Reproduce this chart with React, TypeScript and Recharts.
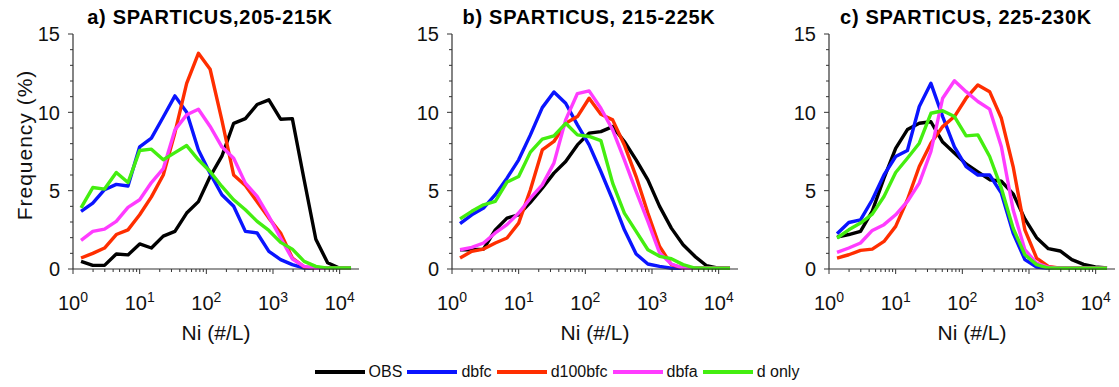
import React from 'react'
import { LineChart, Line, XAxis, YAxis, Label } from 'recharts'

// bin centres of Ni (#/L), log-spaced by a factor of 1.5
const NI = [1.32, 1.98, 2.97, 4.46, 6.68, 10.0, 15.0, 22.6, 33.8, 50.7, 76.1, 114, 171, 257, 385, 578, 867, 1300, 1950, 2930, 4390, 6590, 9880, 14800]

// a) 205-215K
const obsA = [0.49, 0.23, 0.23, 0.96, 0.9, 1.6, 1.34, 2.1, 2.4, 3.57, 4.3, 5.9, 7.2, 9.3, 9.6, 10.5, 10.8, 9.56, 9.6, 5.7, 1.9, 0.4, 0.06, 0.05]
const dbfcA = [3.68, 4.2, 5.06, 5.4, 5.3, 7.8, 8.35, 9.7, 11.05, 10.0, 7.6, 6.1, 4.74, 4.0, 2.4, 2.3, 1.13, 0.6, 0.28, 0.06, 0.05, 0.05, 0.05, 0.05]
const d100bfcA = [0.7, 1.0, 1.34, 2.2, 2.5, 3.46, 4.6, 6.0, 8.7, 11.85, 13.77, 12.75, 9.5, 6.0, 5.33, 4.3, 3.25, 2.3, 0.7, 0.13, 0.05, 0.05, 0.05, 0.05]
const dbfaA = [1.83, 2.4, 2.55, 3.04, 3.93, 4.42, 5.52, 6.4, 8.88, 9.84, 10.2, 9.1, 7.8, 7.07, 5.48, 4.63, 3.36, 1.98, 0.64, 0.17, 0.05, 0.05, 0.05, 0.05]
const donlyA = [3.9, 5.2, 5.1, 6.16, 5.52, 7.56, 7.65, 6.97, 7.43, 7.88, 6.97, 6.22, 5.27, 4.42, 3.78, 3.04, 2.46, 1.7, 1.27, 0.49, 0.17, 0.06, 0.06, 0.06]

// b) 215-225K
const obsB = [1.23, 1.23, 1.27, 2.5, 3.25, 3.46, 4.25, 5.16, 6.12, 6.86, 7.92, 8.67, 8.77, 9.09, 8.14, 6.97, 5.69, 4.0, 2.61, 1.55, 0.81, 0.21, 0.06, 0.05]
const dbfcB = [2.89, 3.46, 3.89, 4.74, 5.8, 6.97, 8.56, 10.3, 11.3, 10.58, 9.2, 7.92, 6.22, 4.42, 2.5, 0.96, 0.32, 0.17, 0.05, 0.05, 0.05, 0.05, 0.05, 0.05]
const d100bfcB = [0.7, 1.13, 1.27, 1.66, 1.98, 2.93, 5.06, 7.6, 8.14, 9.3, 9.73, 10.9, 9.88, 9.52, 7.92, 5.9, 3.57, 1.44, 0.28, 0.06, 0.05, 0.05, 0.05, 0.05]
const dbfaB = [1.23, 1.38, 1.66, 2.3, 2.83, 3.57, 4.52, 5.37, 6.76, 9.52, 11.2, 11.37, 10.26, 8.88, 6.97, 4.95, 3.04, 1.02, 0.32, 0.06, 0.05, 0.05, 0.05, 0.05]
const donlyB = [3.2, 3.68, 4.1, 4.31, 5.55, 5.9, 7.46, 8.29, 8.5, 9.3, 8.56, 8.46, 8.2, 5.48, 3.57, 2.4, 1.23, 0.81, 0.66, 0.28, 0.06, 0.05, 0.05, 0.05]

// c) 225-230K
const obsC = [2.04, 2.2, 2.4, 3.7, 5.8, 7.7, 8.9, 9.3, 9.4, 8.1, 7.4, 6.7, 6.2, 5.7, 5.6, 4.8, 3.2, 2.0, 1.3, 1.15, 0.6, 0.3, 0.13, 0.06]
const dbfcC = [2.25, 2.97, 3.14, 4.42, 6.0, 7.18, 7.56, 10.37, 11.85, 9.73, 7.8, 6.54, 6.0, 6.0, 4.84, 2.3, 0.6, 0.13, 0.05, 0.05, 0.05, 0.05, 0.05, 0.05]
const d100bfcC = [0.7, 0.91, 1.19, 1.27, 1.76, 2.72, 4.42, 6.54, 8.03, 9.09, 9.73, 10.9, 11.75, 11.32, 9.62, 6.54, 2.5, 0.7, 0.17, 0.05, 0.05, 0.05, 0.05, 0.05]
const dbfaC = [1.06, 1.34, 1.66, 2.46, 2.83, 3.46, 4.31, 5.48, 7.5, 10.9, 12.02, 11.32, 10.69, 10.2, 7.8, 3.78, 1.23, 0.38, 0.11, 0.05, 0.05, 0.05, 0.05, 0.05]
const donlyC = [1.98, 2.5, 2.93, 3.5, 4.63, 6.16, 7.07, 8.03, 9.94, 10.1, 9.73, 8.5, 8.56, 7.18, 5.16, 2.61, 0.91, 0.28, 0.06, 0.05, 0.05, 0.05, 0.05, 0.05]

const X_MAJOR = [1, 10, 100, 1000, 10000]
const X_TICKS = [
  1, 2, 3, 4, 5, 6, 7, 8, 9,
  10, 20, 30, 40, 50, 60, 70, 80, 90,
  100, 200, 300, 400, 500, 600, 700, 800, 900,
  1000, 2000, 3000, 4000, 5000, 6000, 7000, 8000, 9000,
  10000,
]
const Y_TICKS = [0, 1, 2, 3, 4, 5, 6, 7, 8, 9, 10, 11, 12, 13, 14, 15]
const Y_LABELS = [0, 5, 10, 15]

const SERIES = [
  { key: 'obs', name: 'OBS', color: '#000000' },
  { key: 'dbfc', name: 'dbfc', color: '#0a14ff' },
  { key: 'd100bfc', name: 'd100bfc', color: '#ff2e00' },
  { key: 'dbfa', name: 'dbfa', color: '#ff3cff' },
  { key: 'donly', name: 'd only', color: '#44ee10' },
]

const PANELS = [
  { title: 'a) SPARTICUS,205-215K', plotLeft: 73, values: [obsA, dbfcA, d100bfcA, dbfaA, donlyA] },
  { title: 'b) SPARTICUS, 215-225K', plotLeft: 452, values: [obsB, dbfcB, d100bfcB, dbfaB, donlyB] },
  { title: 'c) SPARTICUS, 225-230K', plotLeft: 829, values: [obsC, dbfcC, d100bfcC, dbfaC, donlyC] },
]

const FONT = '"Liberation Sans", Arial, Helvetica, sans-serif'
const AXIS = '#333'
const TXT = '#111'
const PLOT_W = 286

const isMajorX = (v: number) => X_MAJOR.includes(v)

const BottomTick = (props: any) => {
  const { x, y, payload } = props
  const v = payload.value
  const major = isMajorX(v)
  return (
    <g>
      <line x1={x} x2={x} y1={y} y2={y + (major ? 5 : 3)} stroke={AXIS} strokeWidth={1} />
      {major && (
        <text x={x} y={y + 41} textAnchor="middle" fontSize={20} fontFamily={FONT} fill={TXT}>
          10
          <tspan dy={-8} fontSize={14}>{Math.round(Math.log10(v))}</tspan>
        </text>
      )}
    </g>
  )
}

const TopTick = (props: any) => {
  const { x, y, payload } = props
  const major = isMajorX(payload.value)
  return <line x1={x} x2={x} y1={y} y2={y - (major ? 5 : 3)} stroke={AXIS} strokeWidth={1} />
}

const LeftTick = (props: any) => {
  const { x, y, payload } = props
  const major = Y_LABELS.includes(payload.value)
  return (
    <g>
      <line x1={x} x2={x - (major ? 5 : 3)} y1={y} y2={y} stroke={AXIS} strokeWidth={1} />
      {major && (
        <text x={x - 13} y={y} dy="0.36em" textAnchor="end" fontSize={20} fontFamily={FONT} fill={TXT}>
          {payload.value}
        </text>
      )}
    </g>
  )
}

const RightTick = (props: any) => {
  const { x, y, payload } = props
  const major = Y_LABELS.includes(payload.value)
  return <line x1={x} x2={x + (major ? 5 : 3)} y1={y} y2={y} stroke={AXIS} strokeWidth={1} />
}

function Panel({ plotLeft, values }: { plotLeft: number; values: number[][] }) {
  const data = NI.map((x, i) => {
    const row: any = { x }
    SERIES.forEach((s, j) => {
      row[s.key] = values[j][i]
    })
    return row
  })

  return (
    <div style={{ position: 'absolute', left: plotLeft - 60, top: 0 }}>
      <LineChart width={60 + PLOT_W + 8} height={345} data={data} margin={{ top: 34, right: 8, left: 0, bottom: 0 }}>
        <XAxis
          dataKey="x"
          type="number"
          scale="log"
          domain={[1, 19500]}
          allowDataOverflow
          ticks={X_TICKS}
          interval={0}
          height={76}
          tickSize={0}
          tickMargin={0}
          tickLine={false}
          axisLine={{ stroke: AXIS, strokeWidth: 1.2 }}
          tick={(p: any) => <BottomTick {...p} />}
        >
          <Label
            content={(p: any) => {
              const vb = p.viewBox || { x: 0, y: 269, width: PLOT_W }
              return (
                <text x={vb.x + vb.width / 2} y={vb.y + 71} textAnchor="middle" fontSize={21} fontFamily={FONT} fill={TXT}>
                  Ni (#/L)
                </text>
              )
            }}
          />
        </XAxis>
        <XAxis
          xAxisId="top"
          orientation="top"
          dataKey="x"
          type="number"
          scale="log"
          domain={[1, 19500]}
          allowDataOverflow
          ticks={X_TICKS}
          interval={0}
          height={0}
          tickSize={0}
          tickMargin={0}
          tickLine={false}
          axisLine={{ stroke: AXIS, strokeWidth: 1.2 }}
          tick={(p: any) => <TopTick {...p} />}
        />
        <YAxis
          type="number"
          domain={[0, 15]}
          ticks={Y_TICKS}
          interval={0}
          width={60}
          tickSize={0}
          tickMargin={0}
          tickLine={false}
          axisLine={{ stroke: AXIS, strokeWidth: 1.2 }}
          tick={(p: any) => <LeftTick {...p} />}
        />
        <YAxis
          yAxisId="right"
          orientation="right"
          type="number"
          domain={[0, 15]}
          allowDataOverflow
          ticks={Y_TICKS}
          interval={0}
          width={0}
          tickSize={0}
          tickMargin={0}
          tickLine={false}
          axisLine={{ stroke: AXIS, strokeWidth: 1.2 }}
          tick={(p: any) => <RightTick {...p} />}
        />
        {SERIES.map((s) => (
          <Line
            key={s.key}
            type="linear"
            dataKey={s.key}
            name={s.name}
            stroke={s.color}
            strokeWidth={3.4}
            strokeLinejoin="round"
            dot={false}
            activeDot={false}
            isAnimationActive={false}
          />
        ))}
      </LineChart>
    </div>
  )
}

export default function App() {
  return (
    <div
      style={{
        position: 'absolute',
        left: 0,
        top: 0,
        width: 1119,
        height: 387,
        overflow: 'hidden',
        background: '#fff',
        fontFamily: FONT,
      }}
    >
      {PANELS.map((p) => (
        <Panel key={p.title} plotLeft={p.plotLeft} values={p.values} />
      ))}

      <svg width={1119} height={387} style={{ position: 'absolute', left: 0, top: 0, pointerEvents: 'none' }}>
        {PANELS.map((p) => (
          <text
            key={p.title}
            x={p.plotLeft + PLOT_W / 2 - 6}
            y={24}
            textAnchor="middle"
            fontSize={20}
            fontWeight="bold"
            letterSpacing={0.7}
            fontFamily={FONT}
            fill="#000"
          >
            {p.title}
          </text>
        ))}
        <text
          x={32}
          y={145}
          transform="rotate(-90 32 145)"
          textAnchor="middle"
          fontSize={21}
          letterSpacing={1}
          fontFamily={FONT}
          fill={TXT}
        >
          Frequency (%)
        </text>
      </svg>

      <div
        style={{
          position: 'absolute',
          left: 0,
          top: 363,
          width: 1119,
          height: 18,
          display: 'flex',
          justifyContent: 'center',
          alignItems: 'center',
        }}
      >
        {SERIES.map((s) => (
          <div key={s.key} style={{ display: 'flex', alignItems: 'center' }}>
            <span style={{ display: 'inline-block', width: 50, height: 4, background: s.color }} />
            <span style={{ marginLeft: 4, marginRight: 5, fontSize: 16, lineHeight: '18px', color: TXT }}>{s.name}</span>
          </div>
        ))}
      </div>
    </div>
  )
}
